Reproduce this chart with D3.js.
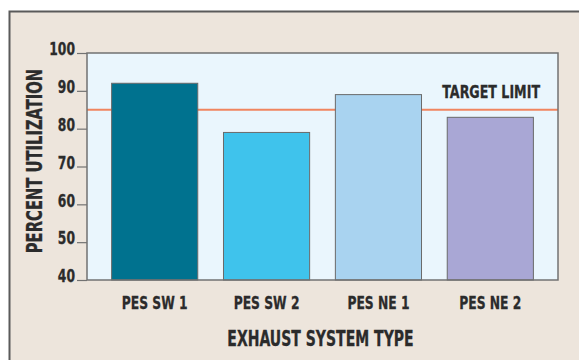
<!DOCTYPE html>
<html>
<head>
<meta charset="utf-8">
<script src="https://cdn.jsdelivr.net/npm/d3@7"></script>
<style>
  html, body { margin: 0; padding: 0; background: #ffffff; }
  svg { display: block; }
  text { font-family: "DejaVu Sans Condensed", "Liberation Sans Narrow", sans-serif; font-weight: bold; fill: #2b2b2b; stroke: #2b2b2b; stroke-width: 0.3px; }
</style>
</head>
<body>
<svg id="chart" width="579" height="360"></svg>
<script>
// Exhaust system utilization data
const categories = ["PES SW 1", "PES SW 2", "PES NE 1", "PES NE 2"];
const utilization = [92, 79, 89, 83];
const barColors = ["#00728f", "#3fc3ec", "#a9d3f0", "#a9a7d5"];
const yTicks = [40, 50, 60, 70, 80, 90, 100];
const targetLimit = 85;
const targetLabel = "TARGET LIMIT";
const xTitle = "EXHAUST SYSTEM TYPE";
const yTitle = "PERCENT UTILIZATION";

const svg = d3.select("#chart");
const W = 579, H = 360;
const plot = { left: 87, right: 558, top: 53, bottom: 280 };

// Squeeze text horizontally to imitate a tall condensed typeface
function condense(sel, k) {
  sel.each(function () {
    const w = this.getComputedTextLength();
    d3.select(this).attr("textLength", w * k).attr("lengthAdjust", "spacingAndGlyphs");
  });
}

// Beige panel with a dark rule along its top and left edges
svg.append("rect").attr("x", 9).attr("y", 11).attr("width", W - 9).attr("height", H - 11)
  .attr("fill", "#ede5dc");
svg.append("path").attr("d", `M9.5,${H} V11.5 H${W}`)
  .attr("fill", "none").attr("stroke", "#5a5a5a").attr("stroke-width", 2);

const x = d3.scaleBand().domain(categories).range([plot.left, plot.right])
  .paddingInner(0.23).paddingOuter(0.22);
const y = d3.scaleLinear().domain([40, 100]).range([plot.bottom, plot.top]);

// Plot background
svg.append("rect").attr("x", plot.left).attr("y", plot.top)
  .attr("width", plot.right - plot.left).attr("height", plot.bottom - plot.top)
  .attr("fill", "#eaf6fd");

// Target limit rule, behind the bars
svg.append("line")
  .attr("x1", plot.left).attr("x2", plot.right)
  .attr("y1", y(targetLimit)).attr("y2", y(targetLimit))
  .attr("stroke", "#f0855f").attr("stroke-width", 2);

svg.append("text").attr("x", 540).attr("y", y(targetLimit) - 12)
  .attr("text-anchor", "end").attr("font-size", 18).text(targetLabel)
  .call(condense, 0.78);

// Bars
svg.selectAll("rect.bar").data(categories).join("rect")
  .attr("class", "bar")
  .attr("x", d => x(d)).attr("width", x.bandwidth())
  .attr("y", (d, i) => y(utilization[i]))
  .attr("height", (d, i) => y(40) - y(utilization[i]))
  .attr("fill", (d, i) => barColors[i])
  .attr("stroke", "#6a6a6a").attr("stroke-width", 1);

// Plot frame
svg.append("rect").attr("x", plot.left).attr("y", plot.top)
  .attr("width", plot.right - plot.left).attr("height", plot.bottom - plot.top)
  .attr("fill", "none").attr("stroke", "#727272").attr("stroke-width", 1.5);

// Y axis
const yAxis = svg.append("g").attr("transform", `translate(${plot.left},0)`)
  .call(d3.axisLeft(y).tickValues(yTicks).tickSize(10).tickPadding(2));
yAxis.attr("font-family", null);
yAxis.select(".domain").remove();
yAxis.selectAll(".tick line").attr("stroke", "#727272").attr("stroke-width", 1.2);
yAxis.selectAll(".tick text").attr("font-size", 18).attr("dy", "0.1em")
  .attr("fill", "#2b2b2b").call(condense, 0.76);

// X axis labels
const xAxis = svg.append("g").attr("transform", `translate(0,${plot.bottom})`)
  .call(d3.axisBottom(x).tickSize(0).tickPadding(16));
xAxis.attr("font-family", null);
xAxis.select(".domain").remove();
xAxis.selectAll(".tick text").attr("font-size", 18).attr("fill", "#2b2b2b")
  .call(condense, 0.76);

// Axis titles
svg.append("text").attr("x", (plot.left + plot.right) / 2 - 2).attr("y", 346)
  .attr("text-anchor", "middle").attr("font-size", 20.5).text(xTitle)
  .call(condense, 0.76);
svg.append("text").attr("transform", `translate(42,161) rotate(-90)`)
  .attr("text-anchor", "middle").attr("font-size", 20.5).text(yTitle)
  .call(condense, 0.8);
</script>
</body>
</html>
